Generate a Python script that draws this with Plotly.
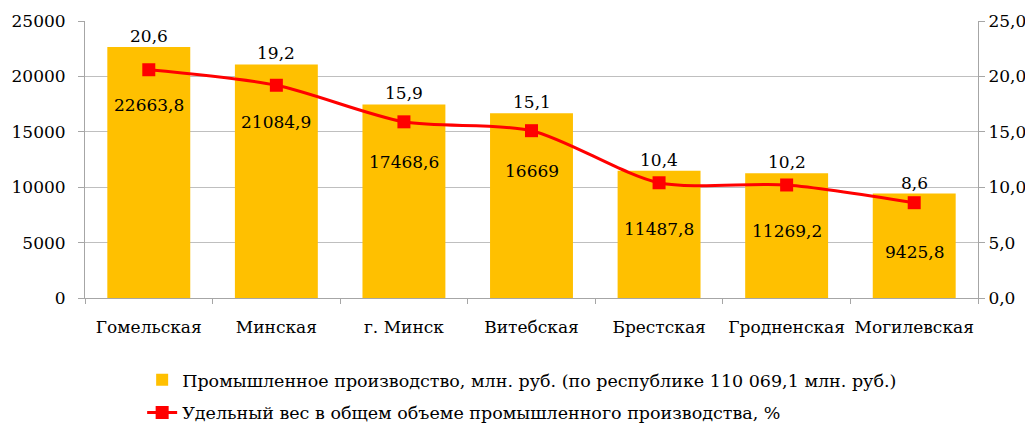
import plotly.graph_objects as go

categories = ["Гомельская", "Минская", "г. Минск", "Витебская", "Брестская", "Гродненская", "Могилевская"]
production = [22663.8, 21084.9, 17468.6, 16669, 11487.8, 11269.2, 9425.8]
share = [20.6, 19.2, 15.9, 15.1, 10.4, 10.2, 8.6]

bar_name = "Промышленное производство, млн. руб. (по республике 110 069,1 млн. руб.)"
line_name = "Удельный вес в общем объеме промышленного производства, %"

FONT = "DejaVu Serif"

def fmt(v):
    s = ("%g" % v)
    return s.replace(".", ",")

fig = go.Figure()
fig.add_trace(go.Bar(
    x=categories, y=production, name=bar_name, legendgroup="a",
    marker=dict(color="#FFC000", line=dict(width=0)),
    width=0.65, yaxis="y",
))
fig.add_trace(go.Scatter(
    x=categories, y=share, name=line_name, yaxis="y2", legendgroup="b",
    mode="lines+markers",
    line=dict(color="#FF0000", width=3, shape="spline", smoothing=0.8),
    marker=dict(symbol="square", size=13, color="#FF0000"),
))

annotations = []
for c, v, s in zip(categories, production, share):
    annotations.append(dict(x=c, y=v, xref="x", yref="y", text=("%.1f" % s).replace(".", ","),
                            showarrow=False, yshift=11, font=dict(family=FONT, size=17, color="#000")))
    annotations.append(dict(x=c, y=v, xref="x", yref="y", text=fmt(v),
                            showarrow=False, yshift=-58, font=dict(family=FONT, size=17, color="#000")))

fig.update_layout(
    width=1025, height=418,
    margin=dict(l=77, r=55, t=13, b=128, autoexpand=False),
    paper_bgcolor="white", plot_bgcolor="white",
    font=dict(family=FONT, size=17, color="#000"),
    separators=", ",
    showlegend=True,
    legend=dict(x=0.064, y=-0.231, xanchor="left", yanchor="top", orientation="v",
                traceorder="grouped", font=dict(family=FONT, size=17.5), itemwidth=30,
                tracegroupgap=7, bgcolor="rgba(0,0,0,0)"),
    xaxis=dict(type="category", showline=True, linecolor="#A6A6A6", linewidth=1,
               ticks="outside", tickson="boundaries", ticklen=5, tickcolor="#A6A6A6",
               ticklabelstandoff=14, tickangle=0, tickfont=dict(family=FONT, size=17),
               showgrid=False),
    yaxis=dict(range=[0, 25000], dtick=5000, tickformat="d", showline=True,
               linecolor="#A6A6A6", ticks="outside", ticklen=6, tickcolor="#A6A6A6",
               ticklabelstandoff=9,
               showgrid=True, gridcolor="#BFBFBF", gridwidth=1, zeroline=False,
               tickfont=dict(family=FONT, size=17)),
    yaxis2=dict(range=[0, 25], dtick=5, tickformat=".1f", overlaying="y", side="right",
                showline=True, linecolor="#A6A6A6", ticks="outside", ticklen=6,
                tickcolor="#A6A6A6", showgrid=False, zeroline=False,
                tickfont=dict(family=FONT, size=17)),
    annotations=annotations,
)

fig.write_html("out.html")
